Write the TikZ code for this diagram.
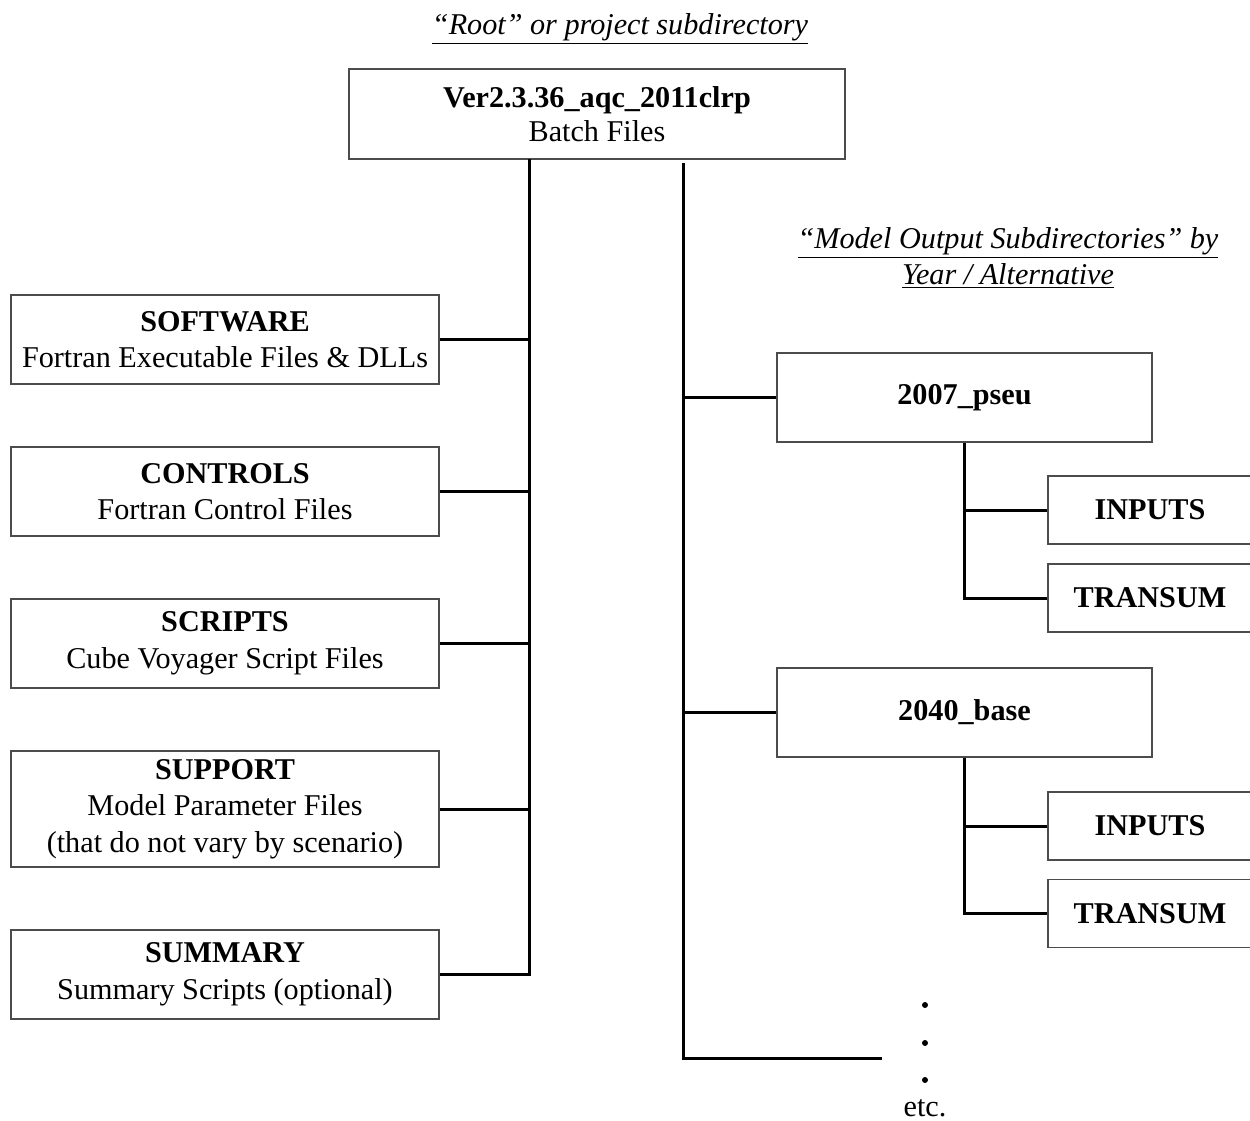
\documentclass[tikz,border=0pt]{standalone}
\usepackage{fontspec}
\setmainfont{Liberation Serif}
\begin{document}
\begin{tikzpicture}[x=0.5pt,y=-0.5pt,
  box/.style={draw=black!70, line width=0.6pt, align=center, inner sep=0pt,
    font=\fontsize{15.1}{18.3}\selectfont},
  leftbox/.style={box, minimum width=214pt, minimum height=44.5pt},
  yearbox/.style={box, minimum width=187.5pt, minimum height=44.5pt},
  subbox/.style={box, minimum width=102pt, minimum height=34pt},
  conn/.style={line width=1.5pt, black},
  heading/.style={align=center, font=\fontsize{15.1}{17.5}\selectfont\itshape},
  dot/.style={circle, fill=black, inner sep=0pt, minimum size=3pt}]
\useasboundingbox (0,0) rectangle (1250,1121);
\clip (0,0) rectangle (1250,1121);

% headings
\node[heading] (roothead) at (620,29) {\underline{“Root” or project subdirectory}};
\node[heading] (outhead) at (1008,258) {\underline{“Model Output Subdirectories” by}\\[0.5pt]\underline{Year / Alternative}};

% root directory
\node[box, minimum width=248pt, minimum height=45pt, font=\fontsize{15.1}{17}\selectfont] (root) at (597,114)
  {\textbf{Ver2.3.36\_aqc\_2011clrp}\\Batch Files};

% fixed subdirectories
\node[leftbox] (software) at (225,339.5) {\textbf{SOFTWARE}\\Fortran Executable Files \& DLLs};
\node[leftbox] (controls) at (225,491.5) {\textbf{CONTROLS}\\Fortran Control Files};
\node[leftbox] (scripts) at (225,643.5) {\textbf{SCRIPTS}\\Cube Voyager Script Files};
\node[leftbox, minimum height=58pt] (support) at (225,809) {\textbf{SUPPORT}\\Model Parameter Files\\(that do not vary by scenario)};
\node[leftbox] (summary) at (225,974.5) {\textbf{SUMMARY}\\Summary Scripts (optional)};

% scenario subdirectories
\node[yearbox] (y07) at (964.5,397.5) {\textbf{2007\_pseu}};
\node[subbox] (in07) at (1150,510) {\textbf{INPUTS}};
\node[subbox] (tr07) at (1150,598) {\textbf{TRANSUM}};
\node[yearbox] (y40) at (964.5,712.5) {\textbf{2040\_base}};
\node[subbox] (in40) at (1150,826) {\textbf{INPUTS}};
\node[subbox] (tr40) at (1150,913.5) {\textbf{TRANSUM}};

% continuation marks
\node[dot] (d1) at (925,1005) {};
\node[dot] (d2) at (925,1043) {};
\node[dot] (d3) at (925,1080) {};
\node[font=\fontsize{15.1}{17.5}\selectfont] (etc) at (925,1108) {etc.};

% left trunk
\coordinate (ltop) at (529,159);
\draw[conn] (ltop) |- (summary.east);
\foreach \n in {software,controls,scripts,support}
  \draw[conn] (\n.east) -- (\n.east -| ltop);

% right trunk
\coordinate (rtop) at (683,163);
\coordinate (rend) at (882,1058);
\draw[conn] (rtop) |- (rend);
\draw[conn] (y07.west) -- (y07.west -| rtop);
\draw[conn] (y40.west) -- (y40.west -| rtop);

% scenario branches
\draw[conn] (y07.south) |- (tr07.west);
\draw[conn] (in07.west) -- (in07.west -| y07.south);
\draw[conn] (y40.south) |- (tr40.west);
\draw[conn] (in40.west) -- (in40.west -| y40.south);
\end{tikzpicture}
\end{document}
